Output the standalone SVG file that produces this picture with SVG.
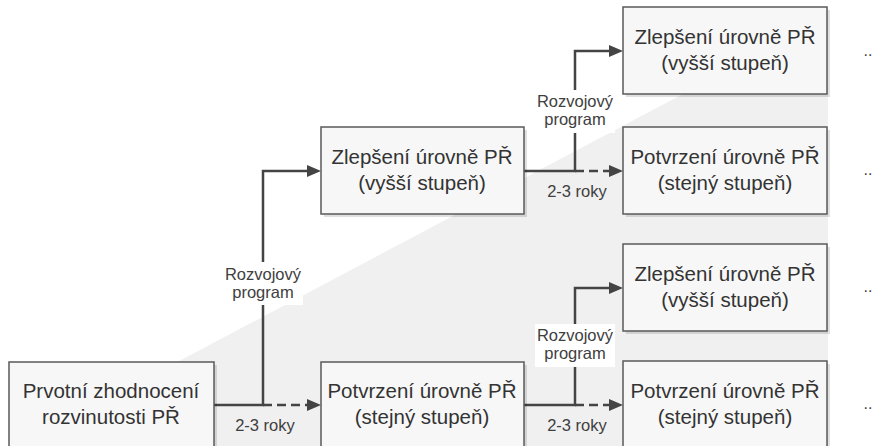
<svg xmlns="http://www.w3.org/2000/svg" width="877" height="446" viewBox="0 0 877 446">
<defs>
<style>
.box{fill:#f7f7f7;stroke:#5a5a5a;stroke-width:1.5}
.sh{fill:#000;opacity:0.12}
.bt{font-family:"Liberation Sans",Arial,sans-serif;font-size:20.5px;fill:#333;text-anchor:middle}
.lt{font-family:"Liberation Sans",Arial,sans-serif;font-size:16.5px;fill:#404040;text-anchor:middle}
.ln{fill:none;stroke:#444;stroke-width:2.5}
.dl{fill:none;stroke:#444;stroke-width:2.5;stroke-dasharray:9 5}
.lbg{fill:#fff}
.dots{font-family:"Liberation Sans",Arial,sans-serif;font-size:16px;fill:#444;text-anchor:middle}
</style>
<marker id="ah" viewBox="0 0 14 12" refX="4" refY="6" markerWidth="14" markerHeight="12" markerUnits="userSpaceOnUse" orient="auto">
<path d="M0,0 L14,6 L0,12 z" fill="#444"/>
</marker>
</defs>
<rect width="877" height="446" fill="#fff"/>
<polygon points="19,446 828,17 828,446" fill="#f0f0f0"/>

<g id="connectors">
<!-- from left box -->
<path class="ln" d="M214,405 H263 V171 H311" marker-end="url(#ah)"/>
<path class="dl" d="M263,405 H311" marker-end="url(#ah)"/>
<rect class="lbg" x="223" y="262" width="80" height="43"/>
<text class="lt" x="263" y="280">Rozvojový</text>
<text class="lt" x="263" y="298">program</text>
<text class="lt" x="265" y="431">2-3 roky</text>
<!-- from middle top box -->
<path class="ln" d="M523,171 H575 V51 H613" marker-end="url(#ah)"/>
<path class="dl" d="M575,171 H613" marker-end="url(#ah)"/>
<rect class="lbg" x="535" y="90" width="80" height="43"/>
<text class="lt" x="575" y="107">Rozvojový</text>
<text class="lt" x="575" y="125">program</text>
<text class="lt" x="577" y="197">2-3 roky</text>
<!-- from middle bottom box -->
<path class="ln" d="M523,405 H575 V288 H613" marker-end="url(#ah)"/>
<path class="dl" d="M575,405 H613" marker-end="url(#ah)"/>
<rect class="lbg" x="535" y="324" width="80" height="43"/>
<text class="lt" x="575" y="341">Rozvojový</text>
<text class="lt" x="575" y="359">program</text>
<text class="lt" x="577" y="431">2-3 roky</text>
</g>

<g id="n-prvotni">
<rect class="sh" x="12" y="365" width="205" height="90"/>
<rect class="box" x="9" y="362" width="205" height="90"/>
<text class="bt" x="111" y="398">Prvotní zhodnocení</text>
<text class="bt" x="111" y="424">rozvinutosti PŘ</text>
</g>

<g id="n-zlepseni-1">
<rect class="sh" x="324" y="130" width="203" height="87"/>
<rect class="box" x="321" y="127" width="203" height="87"/>
<text class="bt" x="422" y="164">Zlepšení úrovně PŘ</text>
<text class="bt" x="422" y="190">(vyšší stupeň)</text>
</g>

<g id="n-potvrzeni-1">
<rect class="sh" x="324" y="365" width="203" height="90"/>
<rect class="box" x="321" y="362" width="203" height="90"/>
<text class="bt" x="422" y="398">Potvrzení úrovně PŘ</text>
<text class="bt" x="422" y="424">(stejný stupeň)</text>
</g>

<g id="n-zlepseni-2">
<rect class="sh" x="626" y="10" width="204" height="87"/>
<rect class="box" x="623" y="7" width="204" height="87"/>
<text class="bt" x="725" y="44">Zlepšení úrovně PŘ</text>
<text class="bt" x="725" y="70">(vyšší stupeň)</text>
</g>

<g id="n-potvrzeni-2">
<rect class="sh" x="626" y="130" width="204" height="87"/>
<rect class="box" x="623" y="127" width="204" height="87"/>
<text class="bt" x="725" y="164">Potvrzení úrovně PŘ</text>
<text class="bt" x="725" y="190">(stejný stupeň)</text>
</g>

<g id="n-zlepseni-3">
<rect class="sh" x="626" y="247" width="204" height="87"/>
<rect class="box" x="623" y="244" width="204" height="87"/>
<text class="bt" x="725" y="281">Zlepšení úrovně PŘ</text>
<text class="bt" x="725" y="307">(vyšší stupeň)</text>
</g>

<g id="n-potvrzeni-3">
<rect class="sh" x="626" y="364" width="204" height="90"/>
<rect class="box" x="623" y="361" width="204" height="90"/>
<text class="bt" x="725" y="398">Potvrzení úrovně PŘ</text>
<text class="bt" x="725" y="424">(stejný stupeň)</text>
</g>

<g id="dots">
<text class="dots" x="868" y="56">..</text>
<text class="dots" x="868" y="175">..</text>
<text class="dots" x="868" y="292">..</text>
<text class="dots" x="868" y="409">..</text>
</g>
</svg>
